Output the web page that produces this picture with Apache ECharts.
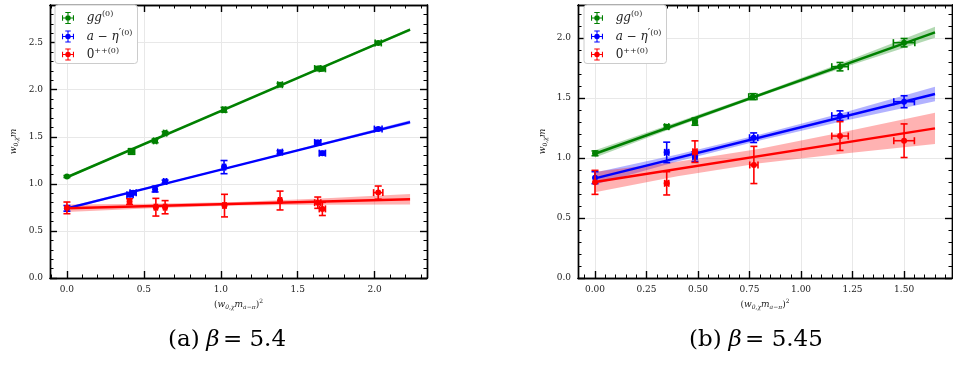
<!DOCTYPE html>
<html>
<head>
<meta charset="utf-8">
<script src="https://cdn.jsdelivr.net/npm/echarts@6/dist/echarts.min.js"></script>
<style>
html, body { margin: 0; padding: 0; background: #fff; }
#main { width: 953px; height: 370px; }
</style>
</head>
<body>
<div id="main"></div>
<script>
// ---- panel (a) beta = 5.4 ----
var aGgX  = [0, 0.42, 0.573, 0.638, 1.021, 1.385, 1.63, 1.66, 2.023];
var aGgY  = [1.078, 1.344, 1.457, 1.539, 1.787, 2.053, 2.225, 2.222, 2.497];
var aGgXe = [0, 0.02, 0.01, 0.01, 0.01, 0.015, 0.02, 0.02, 0.02];
var aGgYe = [0.01, 0.03, 0.02, 0.015, 0.025, 0.015, 0.02, 0.02, 0.015];

var aEtX  = [0, 0.41, 0.43, 0.573, 0.638, 1.021, 1.385, 1.63, 1.66, 2.023];
var aEtY  = [0.74, 0.885, 0.905, 0.944, 1.025, 1.178, 1.337, 1.44, 1.326, 1.582];
var aEtXe = [0, 0.02, 0.02, 0.01, 0.01, 0.01, 0.015, 0.02, 0.02, 0.025];
var aEtYe = [0.03, 0.02, 0.02, 0.03, 0.015, 0.07, 0.015, 0.02, 0.02, 0.015];

var aPpX  = [0, 0.407, 0.578, 0.638, 1.024, 1.385, 1.63, 1.66, 2.023];
var aPpY  = [0.745, 0.812, 0.752, 0.752, 0.769, 0.823, 0.80, 0.734, 0.907];
var aPpXe = [0, 0.01, 0.01, 0.01, 0.01, 0.01, 0.02, 0.02, 0.03];
var aPpYe = [0.062, 0.03, 0.094, 0.07, 0.12, 0.1, 0.06, 0.07, 0.07];

var aFitX  = [0, 2.23];
var aFitGg = [1.07, 2.638];
var aFitEt = [0.74, 1.656];
var aFitPp = [0.74, 0.837];

var aBandX    = [0, 0.55, 1.1, 1.65, 2.23];
var aBandGgLo = [1.056, 1.451, 1.837, 2.225, 2.622];
var aBandGgHi = [1.084, 1.463, 1.849, 2.241, 2.654];
var aBandEtLo = [0.725, 0.960, 1.185, 1.411, 1.636];
var aBandEtHi = [0.755, 0.976, 1.199, 1.431, 1.676];
var aBandPpLo = [0.70, 0.740, 0.769, 0.779, 0.782];
var aBandPpHi = [0.78, 0.788, 0.807, 0.845, 0.892];

// ---- panel (b) beta = 5.45 ----
var bGgX  = [0, 0.348, 0.485, 0.766, 1.189, 1.50];
var bGgY  = [1.039, 1.261, 1.303, 1.511, 1.761, 1.961];
var bGgXe = [0, 0.01, 0.01, 0.02, 0.04, 0.052];
var bGgYe = [0.02, 0.015, 0.03, 0.025, 0.035, 0.035];

var bEtX  = [0, 0.348, 0.485, 0.77, 1.189, 1.50];
var bEtY  = [0.836, 1.047, 1.011, 1.169, 1.353, 1.469];
var bEtXe = [0, 0.01, 0.01, 0.02, 0.04, 0.05];
var bEtYe = [0.05, 0.085, 0.04, 0.04, 0.04, 0.05];

var bPpX  = [0, 0.348, 0.485, 0.771, 1.189, 1.50];
var bPpY  = [0.797, 0.789, 1.053, 0.942, 1.183, 1.144];
var bPpXe = [0, 0.01, 0.01, 0.02, 0.04, 0.05];
var bPpYe = [0.1, 0.097, 0.09, 0.155, 0.12, 0.14];

var bFitX  = [0, 1.65];
var bFitGg = [1.035, 2.047];
var bFitEt = [0.83, 1.533];
var bFitPp = [0.80, 1.247];

var bBandX    = [0, 0.4, 0.8, 1.2, 1.65];
var bBandGgLo = [1.005, 1.263, 1.513, 1.750, 2.003];
var bBandGgHi = [1.065, 1.299, 1.539, 1.794, 2.093];
var bBandEtLo = [0.78, 0.970, 1.146, 1.306, 1.473];
var bBandEtHi = [0.88, 1.030, 1.196, 1.376, 1.593];
var bBandPpLo = [0.715, 0.848, 0.957, 1.035, 1.117];
var bBandPpHi = [0.885, 0.968, 1.077, 1.215, 1.377];

// ---- axes ticks ----
var aXMajor = [0, 0.5, 1.0, 1.5, 2.0];
var aXMinor = [-0.1, 0.1, 0.2, 0.3, 0.4, 0.6, 0.7, 0.8, 0.9, 1.1, 1.2, 1.3, 1.4, 1.6, 1.7, 1.8, 1.9, 2.1, 2.2, 2.3];
var aYMajor = [0, 0.5, 1.0, 1.5, 2.0, 2.5];
var aYMinor = [0.1, 0.2, 0.3, 0.4, 0.6, 0.7, 0.8, 0.9, 1.1, 1.2, 1.3, 1.4, 1.6, 1.7, 1.8, 1.9, 2.1, 2.2, 2.3, 2.4, 2.6, 2.7, 2.8];
var bXMajor = [0, 0.25, 0.5, 0.75, 1.0, 1.25, 1.5];
var bXMinor = [-0.05, 0.05, 0.1, 0.15, 0.2, 0.3, 0.35, 0.4, 0.45, 0.55, 0.6, 0.65, 0.7, 0.8, 0.85, 0.9, 0.95,
               1.05, 1.1, 1.15, 1.2, 1.3, 1.35, 1.4, 1.45, 1.55, 1.6, 1.65, 1.7];
var bYMajor = [0, 0.5, 1.0, 1.5, 2.0];
var bYMinor = [0.1, 0.2, 0.3, 0.4, 0.6, 0.7, 0.8, 0.9, 1.1, 1.2, 1.3, 1.4, 1.6, 1.7, 1.8, 1.9, 2.1, 2.2];

var names = ['gg', 'aeta', 'zpp'];
var colors = { gg: '#008000', aeta: '#0000ff', zpp: '#ff0000' };
var bandColors = { gg: 'rgba(0,128,0,0.3)', aeta: 'rgba(0,0,255,0.3)', zpp: 'rgba(255,0,0,0.3)' };

var serif = 'DejaVu Serif';
var myChart = echarts.init(document.getElementById('main'));

function errRender(params, api) {
	var x = api.value(0), y = api.value(1), xe = api.value(2), ye = api.value(3);
	var c = api.coord([x, y]);
	var l = api.coord([x - xe, y]), r = api.coord([x + xe, y]);
	var t = api.coord([x, y + ye]), b = api.coord([x, y - ye]);
	var st = { stroke: api.visual('color'), lineWidth: 1.6 };
	var cap = 3.5;
	var ch = [];
	function ln(x1, y1, x2, y2) {
		ch.push({ type: 'line', shape: { x1: x1, y1: y1, x2: x2, y2: y2 }, style: st });
	}
	if (xe > 0) {
		ln(l[0], l[1], r[0], r[1]);
		ln(l[0], l[1] - cap, l[0], l[1] + cap);
		ln(r[0], r[1] - cap, r[0], r[1] + cap);
	}
	ln(t[0], t[1], b[0], b[1]);
	ln(t[0] - cap, t[1], t[0] + cap, t[1]);
	ln(b[0] - cap, b[1], b[0] + cap, b[1]);
	ch.push({ type: 'circle', shape: { cx: c[0], cy: c[1], r: 3 }, style: { fill: api.visual('color') } });
	return { type: 'group', children: ch };
}

function errSeries(name, gi, xs, ys, xe, ye) {
	return {
		type: 'custom', name: name, xAxisIndex: gi * 4, yAxisIndex: gi * 4, z: 5,
		itemStyle: { color: colors[name] },
		encode: { x: 0, y: 1 },
		renderItem: errRender,
		data: xs.map(function (x, i) { return [x, ys[i], xe[i], ye[i]]; })
	};
}

function bandSeries(name, gi, bx, lo, hi) {
	return {
		type: 'custom', xAxisIndex: gi * 4, yAxisIndex: gi * 4, z: 1, silent: true,
		encode: { x: 0, y: 1 },
		data: [[bx[0], lo[0]]],
		renderItem: function (params, api) {
			var pts = [];
			for (var i = 0; i < bx.length; i++) pts.push(api.coord([bx[i], lo[i]]));
			for (var j = bx.length - 1; j >= 0; j--) pts.push(api.coord([bx[j], hi[j]]));
			return { type: 'polygon', shape: { points: pts }, style: { fill: bandColors[name] } };
		}
	};
}

function fitSeries(name, gi, fx, fy) {
	return {
		type: 'line', xAxisIndex: gi * 4, yAxisIndex: gi * 4, z: 3, silent: true,
		symbol: 'none',
		itemStyle: { color: colors[name] },
		lineStyle: { color: colors[name], width: 2.5 },
		data: fx.map(function (x, i) { return [x, fy[i]]; })
	};
}

var rich = {
	i: { fontFamily: serif, fontStyle: 'italic', fontSize: 9, color: '#222' },
	n: { fontFamily: serif, fontSize: 9, color: '#222' },
	sub: { fontFamily: serif, fontStyle: 'italic', fontSize: 6, color: '#222', padding: [5, 0, 0, 0] },
	sup: { fontFamily: serif, fontSize: 6, color: '#222', padding: [0, 0, 6, 0] }
};

// one axis of the panel: main (labels + grid), minor, or mirrored
function axis(gi, pos, min, max, ticks, len, labels, decimals, name, nameGap) {
	var o = {
		type: 'value', gridIndex: gi, position: pos, min: min, max: max,
		axisLine: { show: true, onZero: false, lineStyle: { color: '#000', width: 1.4 } },
		axisTick: { show: true, inside: true, length: len, customValues: ticks,
			lineStyle: { color: '#000', width: len > 5 ? 1.4 : 1 } },
		axisLabel: { show: false },
		splitLine: { show: false },
		minorTick: { show: false }
	};
	if (labels) {
		o.axisLabel = {
			show: true, customValues: ticks, margin: 7,
			fontFamily: serif, fontSize: 9, color: '#222',
			formatter: function (v) { return v.toFixed(decimals); }
		};
		o.splitLine = { show: true, lineStyle: { color: '#e8e8e8', width: 1 } };
		o.name = name;
		o.nameLocation = 'middle';
		o.nameGap = nameGap;
		o.nameTextStyle = { rich: rich };
	}
	return o;
}

var xName = '{n|(}{i|w}{sub|0,χ}{i|m}{sub|a−π}{n|)}{sup|2}';
var yName = '{i|w}{sub|0,χ}{i|m}';

var xAxes = [
	axis(0, 'bottom', -0.11, 2.34, aXMajor, 7, true, 1, xName, 20),
	axis(0, 'bottom', -0.11, 2.34, aXMinor, 3.5),
	axis(0, 'top', -0.11, 2.34, aXMajor, 7),
	axis(0, 'top', -0.11, 2.34, aXMinor, 3.5),
	axis(1, 'bottom', -0.0825, 1.7325, bXMajor, 7, true, 2, xName, 20),
	axis(1, 'bottom', -0.0825, 1.7325, bXMinor, 3.5),
	axis(1, 'top', -0.0825, 1.7325, bXMajor, 7),
	axis(1, 'top', -0.0825, 1.7325, bXMinor, 3.5)
];
var yAxes = [
	axis(0, 'left', 0, 2.9, aYMajor, 7, true, 1, yName, 31),
	axis(0, 'left', 0, 2.9, aYMinor, 3.5),
	axis(0, 'right', 0, 2.9, aYMajor, 7),
	axis(0, 'right', 0, 2.9, aYMinor, 3.5),
	axis(1, 'left', 0, 2.275, bYMajor, 7, true, 1, yName, 30),
	axis(1, 'left', 0, 2.275, bYMinor, 3.5),
	axis(1, 'right', 0, 2.275, bYMajor, 7),
	axis(1, 'right', 0, 2.275, bYMinor, 3.5)
];

var legendRich = {
	i: { fontFamily: serif, fontStyle: 'italic', fontSize: 12, color: '#222' },
	n: { fontFamily: serif, fontSize: 12, color: '#222' },
	p: { fontFamily: serif, fontSize: 11, color: '#222', padding: [0, 0, 6, 0] },
	sup: { fontFamily: serif, fontSize: 8, color: '#222', padding: [0, 0, 8, 0] }
};
var legendText = {
	gg: '{i|  gg}{sup|(0)}',
	aeta: '{i|  a} {n|−} {i|η}{p|\u2032}{sup|(0)}',
	zpp: '{n|  0}{sup|++(0)}'
};
var ebIcon = 'path://M2,11h20v2h-20z M11,2h2v20h-2z M1,7h2v10h-2z M21,7h2v10h-2z M7,1h10v2h-10z M7,21h10v2h-10z M7,12a5,5 0 1,1 10,0a5,5 0 1,1 -10,0z';

function legend(left) {
	return {
		left: left, top: 5, orient: 'vertical', data: names,
		icon: ebIcon, itemWidth: 12, itemHeight: 12, itemGap: 4,
		backgroundColor: '#fff', borderColor: '#cccccc', borderWidth: 1, borderRadius: 3,
		padding: [5, 5, 3, 7], selectedMode: false,
		formatter: function (n) { return legendText[n]; },
		textStyle: { fontFamily: serif, fontSize: 12, rich: legendRich }
	};
}

var capRich = {
	n: { fontFamily: serif, fontSize: 23, fill: '#000' },
	i: { fontFamily: serif, fontStyle: 'italic', fontSize: 23, fill: '#000' }
};

option = {
	animation: false,
	backgroundColor: '#fff',
	grid: [
		{ left: 50, top: 5, width: 377, height: 273, outerBoundsMode: 'none' },
		{ left: 578, top: 5, width: 374, height: 273, outerBoundsMode: 'none' }
	],
	xAxis: xAxes,
	yAxis: yAxes,
	legend: [legend(55), legend(584)],
	graphic: [
		{ type: 'text', x: 227, y: 340, style: { text: '{n|(a)}  {i|β} {n|= 5.4}', align: 'center', verticalAlign: 'middle', rich: capRich } },
		{ type: 'text', x: 756, y: 340, style: { text: '{n|(b)}  {i|β} {n|= 5.45}', align: 'center', verticalAlign: 'middle', rich: capRich } }
	],
	series: [
		bandSeries('gg', 0, aBandX, aBandGgLo, aBandGgHi),
		bandSeries('aeta', 0, aBandX, aBandEtLo, aBandEtHi),
		bandSeries('zpp', 0, aBandX, aBandPpLo, aBandPpHi),
		fitSeries('gg', 0, aFitX, aFitGg),
		fitSeries('aeta', 0, aFitX, aFitEt),
		fitSeries('zpp', 0, aFitX, aFitPp),
		errSeries('gg', 0, aGgX, aGgY, aGgXe, aGgYe),
		errSeries('aeta', 0, aEtX, aEtY, aEtXe, aEtYe),
		errSeries('zpp', 0, aPpX, aPpY, aPpXe, aPpYe),
		bandSeries('gg', 1, bBandX, bBandGgLo, bBandGgHi),
		bandSeries('aeta', 1, bBandX, bBandEtLo, bBandEtHi),
		bandSeries('zpp', 1, bBandX, bBandPpLo, bBandPpHi),
		fitSeries('gg', 1, bFitX, bFitGg),
		fitSeries('aeta', 1, bFitX, bFitEt),
		fitSeries('zpp', 1, bFitX, bFitPp),
		errSeries('gg', 1, bGgX, bGgY, bGgXe, bGgYe),
		errSeries('aeta', 1, bEtX, bEtY, bEtXe, bEtYe),
		errSeries('zpp', 1, bPpX, bPpY, bPpXe, bPpYe)
	]
};
myChart.setOption(option);
</script>
</body>
</html>
